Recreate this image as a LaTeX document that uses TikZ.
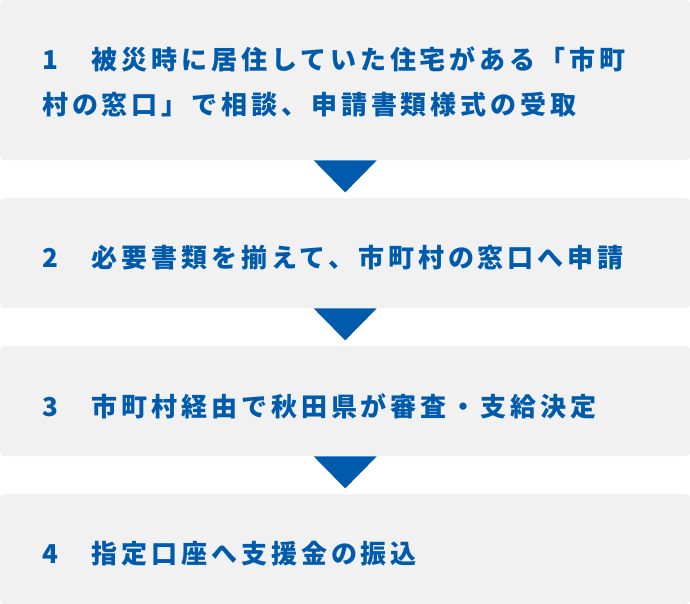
\documentclass[tikz,border=0pt]{standalone}
\usepackage{fontspec}
\newfontfamily\jp[LetterSpace=15]{Noto Sans CJK JP}
\definecolor{boxgray}{HTML}{F1F1F1}
\definecolor{stepblue}{HTML}{005BAC}
\begin{document}
\begin{tikzpicture}[x=1pt,y=1pt,
  stepbox/.style={fill=boxgray, rounded corners=4pt, minimum width=690pt, inner sep=0pt, anchor=north west, draw=none},
  steptext/.style={text=stepblue, font=\jp\bfseries\fontsize{26}{45}\selectfont, align=left, anchor=west, inner sep=0pt},
  steparrow/.style={fill=stepblue}
]
\useasboundingbox (0,0) rectangle (690,-604);
\node[stepbox, minimum height=160pt] (b1) at (0,0) {};
\node[stepbox, minimum height=110pt] (b2) at (0,-198) {};
\node[stepbox, minimum height=110pt] (b3) at (0,-346) {};
\node[stepbox, minimum height=110pt] (b4) at (0,-494) {};

\node[steptext] (t1) at (42,-82) {1　被災時に居住していた住宅がある「市町\\村の窓口」で相談、申請書類様式の受取};
\node[steptext] (t2) at (42,-258) {2　必要書類を揃えて、市町村の窓口へ申請};
\node[steptext] (t3) at (42,-406) {3　市町村経由で秋田県が審査・支給決定};
\node[steptext] (t4) at (42,-554) {4　指定口座へ支援金の振込};

\foreach \b in {b1,b2,b3}{
  \fill[steparrow] ([xshift=-31.5pt]\b.south) -- ([xshift=31.5pt]\b.south) -- ([yshift=-32pt]\b.south) -- cycle;
}
\end{tikzpicture}
\end{document}
